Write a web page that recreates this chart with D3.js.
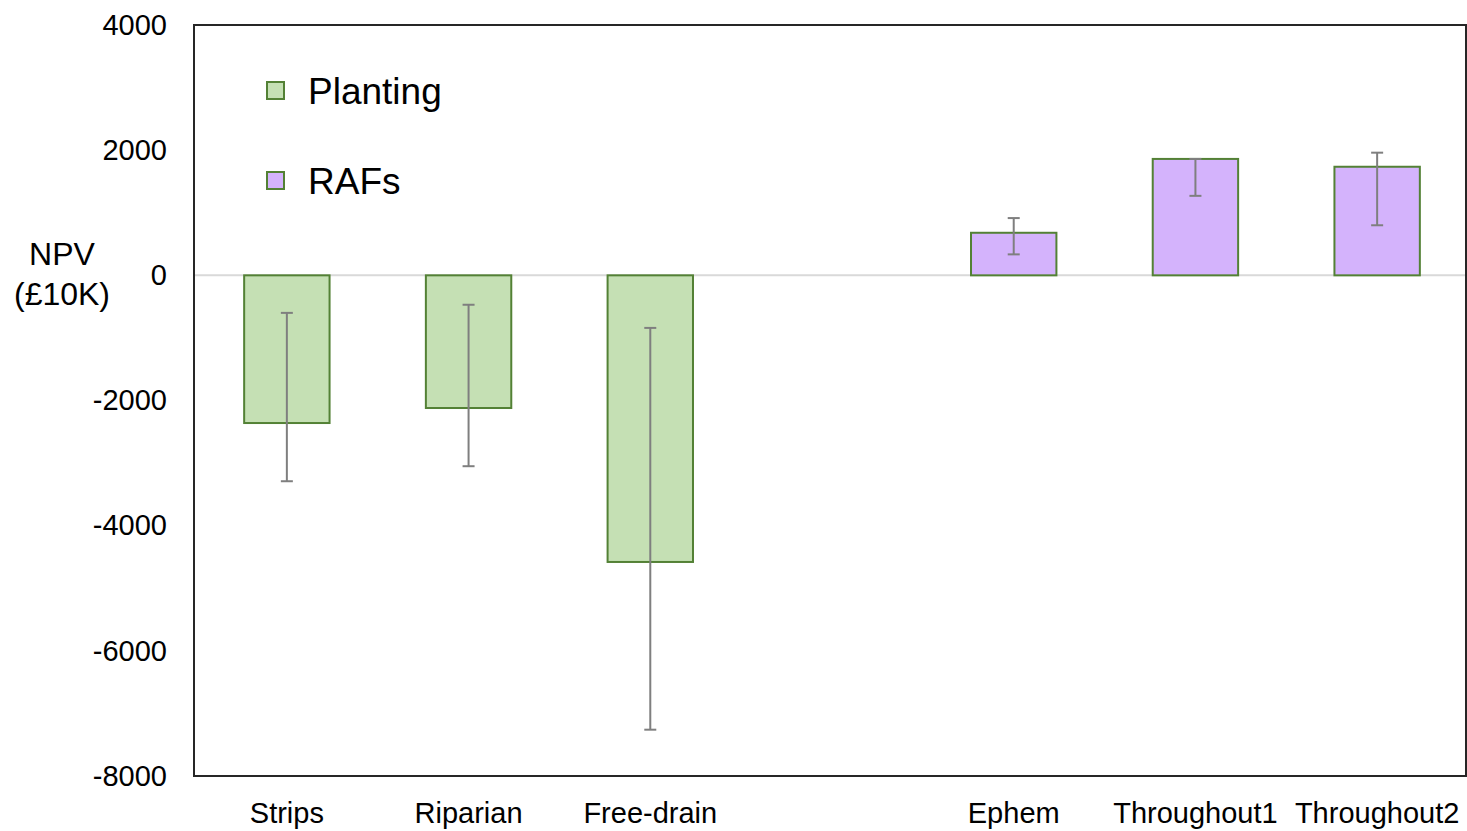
<!DOCTYPE html>
<html>
<head>
<meta charset="utf-8">
<script src="https://cdn.jsdelivr.net/npm/d3@7"></script>
<style>
  body { margin: 0; background: #fff; }
  text { font-family: "Liberation Sans", Arial, sans-serif; fill: #000; }
</style>
</head>
<body>
<div id="chart"></div>
<script>
(function(){
	var width = 1467,
		height = 831;

	// data
	var categories = ["Strips", "Riparian", "Free-drain", "", "Ephem", "Throughout1", "Throughout2"];
	var groups = ["Planting", "Planting", "Planting", null, "RAFs", "RAFs", "RAFs"];
	var npv = [-2360, -2120, -4580, null, 680, 1860, 1735];
	var errHigh = [-600, -470, -840, null, 915, 1860, 1960];
	var errLow = [-3290, -3050, -7260, null, 335, 1270, 800];
	var yTicks = [4000, 2000, 0, -2000, -4000, -6000, -8000];
	var seriesNames = ["Planting", "RAFs"];
	var seriesColors = ["#c5e0b4", "#d4b3fc"];

	var margin = {top: 25, right: 1, bottom: 55, left: 194};

	var svg = d3.select("#chart")
		.append("svg")
		.attr("width", width)
		.attr("height", height)

	var g = svg.append("g")
		.attr("transform", "translate(" + margin.left + "," + margin.top + ")")

	var w = width - margin.left - margin.right,
		h = height - margin.top - margin.bottom;

	var x = d3.scaleBand()
		.domain(d3.range(categories.length))
		.range([2, w + 2])
		.paddingInner(0.53)
		.paddingOuter(0.265)

	var y = d3.scaleLinear().domain([-8000, 4000]).range([h, 0])

	var color = d3.scaleOrdinal().domain(seriesNames).range(seriesColors)

	var rows = categories.map(function(c, i){
		return {i: i, name: c, group: groups[i], value: npv[i], hi: errHigh[i], lo: errLow[i]};
	}).filter(function(d){ return d.value !== null; })

	// zero line
	g.append("line")
		.attr("x1", 0).attr("x2", w)
		.attr("y1", y(0)).attr("y2", y(0))
		.attr("stroke", "#d9d9d9")
		.attr("stroke-width", 2)

	// bars
	g.selectAll(".bar")
		.data(rows)
		.enter().append("rect")
		.attr("class", "bar")
		.attr("x", function(d){ return x(d.i); })
		.attr("width", x.bandwidth())
		.attr("y", function(d){ return y(Math.max(0, d.value)); })
		.attr("height", function(d){ return Math.abs(y(d.value) - y(0)); })
		.attr("fill", function(d){ return color(d.group); })
		.attr("stroke", "#538135")
		.attr("stroke-width", 2)

	// error bars
	var err = g.selectAll(".err")
		.data(rows)
		.enter().append("g")
		.attr("class", "err")
		.attr("stroke", "#7f7f7f")
		.attr("stroke-width", 2)

	err.append("line")
		.attr("x1", function(d){ return x(d.i) + x.bandwidth()/2; })
		.attr("x2", function(d){ return x(d.i) + x.bandwidth()/2; })
		.attr("y1", function(d){ return y(d.hi); })
		.attr("y2", function(d){ return y(d.lo); })

	err.selectAll(".cap")
		.data(function(d){ return [{i: d.i, v: d.hi}, {i: d.i, v: d.lo}]; })
		.enter().append("line")
		.attr("x1", function(d){ return x(d.i) + x.bandwidth()/2 - 6; })
		.attr("x2", function(d){ return x(d.i) + x.bandwidth()/2 + 6; })
		.attr("y1", function(d){ return y(d.v); })
		.attr("y2", function(d){ return y(d.v); })

	// y axis labels (plain hyphen like the original)
	var yAxis = g.append("g")
		.call(d3.axisLeft(y).tickValues(yTicks).tickSize(0).tickPadding(27).tickFormat(function(d){ return String(d); }))
	yAxis.select(".domain").remove()
	yAxis.selectAll("text")
		.attr("font-size", 29)
		.attr("fill", "#000")
		.attr("font-family", "Liberation Sans, Arial, sans-serif")

	// x axis labels
	var xAxis = g.append("g")
		.attr("transform", "translate(0," + h + ")")
		.call(d3.axisBottom(x).tickSize(0).tickPadding(26).tickFormat(function(i){ return categories[i]; }))
	xAxis.select(".domain").remove()
	xAxis.selectAll("text")
		.attr("font-size", 29)
		.attr("fill", "#000")
		.attr("font-family", "Liberation Sans, Arial, sans-serif")

	// plot frame
	g.append("rect")
		.attr("x", 0).attr("y", 0)
		.attr("width", w).attr("height", h)
		.attr("fill", "none")
		.attr("stroke", "#262626")
		.attr("stroke-width", 2)

	// y title
	var title = svg.append("text")
		.attr("text-anchor", "middle")
		.attr("font-size", 32)
	title.append("tspan").attr("x", 62).attr("y", 265).text("NPV")
	title.append("tspan").attr("x", 62).attr("y", 305).text("(£10K)")

	// legend
	var legend = g.selectAll(".legend")
		.data(seriesNames)
		.enter().append("g")
		.attr("class", "legend")
		.attr("transform", function(d, i){ return "translate(73," + (57 + i*90) + ")"; })

	legend.append("rect")
		.attr("width", 17).attr("height", 17)
		.attr("fill", function(d){ return color(d); })
		.attr("stroke", "#538135")
		.attr("stroke-width", 2)

	legend.append("text")
		.attr("x", 41)
		.attr("y", 22)
		.attr("font-size", 37)
		.text(function(d){ return d; })

})();
</script>
</body>
</html>
